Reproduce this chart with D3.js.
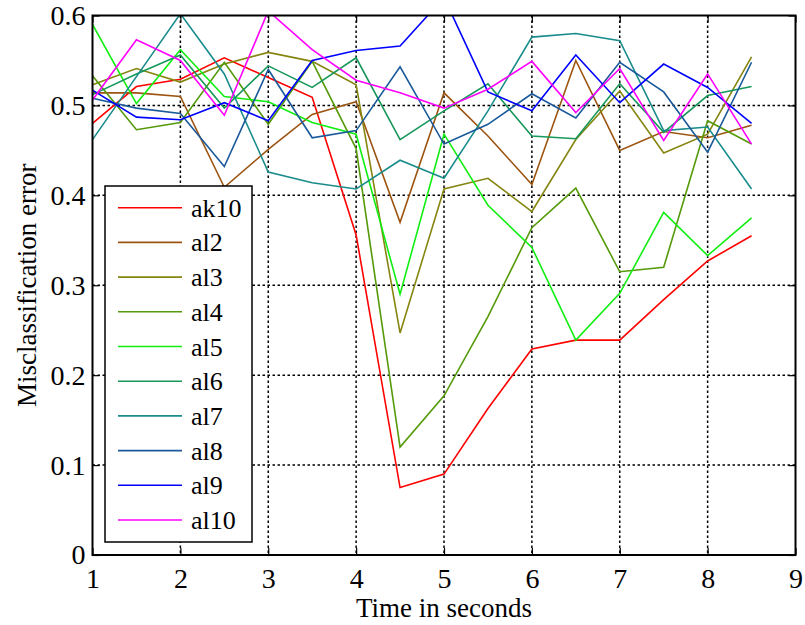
<!DOCTYPE html>
<html lang="en">
	<head>
		<meta charset="utf-8">
		<title>D3: Misclassification error</title>
		<script type="text/javascript" src="https://cdn.jsdelivr.net/npm/d3@7"></script>
		<style type="text/css">
			body { margin: 0; background: white; }
			text { font-family: "Liberation Serif", "Times New Roman", serif; fill: black; }
		</style>
	</head>
	<body>
		<script type="text/javascript">
			var w = 805;
			var h = 625;

			// time points (seconds)
			var times = [1, 1.5, 2, 2.5, 3, 3.5, 4, 4.5, 5, 5.5, 6, 6.5, 7, 7.5, 8, 8.5];

			var names = ["ak10", "al2", "al3", "al4", "al5", "al6", "al7", "al8", "al9", "al10"];
			var colors = ["#ff0000", "#9c5410", "#858510", "#559a0a", "#11ee11", "#17985a", "#1a8c8c", "#1a5a9a", "#0000ff", "#ff00ff"];

			var ak10 = [0.480, 0.521, 0.529, 0.553, 0.531, 0.509, 0.356, 0.075, 0.090, 0.163, 0.229, 0.239, 0.239, 0.284, 0.327, 0.355];
			var al2  = [0.514, 0.514, 0.510, 0.409, 0.451, 0.490, 0.504, 0.370, 0.514, 0.466, 0.412, 0.550, 0.450, 0.471, 0.464, 0.478];
			var al3  = [0.523, 0.541, 0.526, 0.546, 0.559, 0.549, 0.523, 0.247, 0.407, 0.419, 0.382, 0.462, 0.516, 0.447, 0.468, 0.554];
			var al4  = [0.533, 0.473, 0.481, 0.548, 0.479, 0.549, 0.452, 0.120, 0.177, 0.265, 0.364, 0.408, 0.315, 0.320, 0.483, 0.457];
			var al5  = [0.590, 0.502, 0.562, 0.510, 0.504, 0.481, 0.468, 0.290, 0.468, 0.389, 0.342, 0.239, 0.291, 0.381, 0.333, 0.375];
			var al6  = [0.512, 0.535, 0.556, 0.497, 0.544, 0.520, 0.553, 0.462, 0.494, 0.524, 0.466, 0.463, 0.524, 0.470, 0.511, 0.521];
			var al7  = [0.462, 0.532, 0.602, 0.535, 0.426, 0.414, 0.407, 0.439, 0.419, 0.494, 0.576, 0.580, 0.572, 0.472, 0.476, 0.407];
			var al8  = [0.508, 0.497, 0.491, 0.432, 0.540, 0.464, 0.472, 0.543, 0.457, 0.479, 0.513, 0.486, 0.548, 0.515, 0.448, 0.548];
			var al9  = [0.517, 0.487, 0.484, 0.503, 0.483, 0.550, 0.561, 0.566, 0.620, 0.515, 0.494, 0.556, 0.503, 0.546, 0.520, 0.480];
			var al10 = [0.506, 0.573, 0.550, 0.489, 0.605, 0.562, 0.528, 0.514, 0.497, 0.518, 0.549, 0.492, 0.541, 0.461, 0.535, 0.457];

			var xTicks = [1, 2, 3, 4, 5, 6, 7, 8, 9];
			var yTicks = [0, 0.1, 0.2, 0.3, 0.4, 0.5, 0.6];

			var series = [ak10, al2, al3, al4, al5, al6, al7, al8, al9, al10];

			// plot box (note: "top" is taken by window.top, so use px*)
			var pxL = 92.5, pxR = 795.5, pxT = 15.5, pxB = 555;

			var x = d3.scaleLinear().domain([1, 9]).range([pxL, pxR]);
			var y = d3.scaleLinear().domain([0, 0.6]).range([pxB, pxT]);

			var svg = d3.select("body")
					.append("svg")
					.attr("width", w)
					.attr("height", h);

			svg.append("clipPath")
				.attr("id", "plot")
				.append("rect")
				.attr("x", pxL)
				.attr("y", pxT)
				.attr("width", pxR - pxL)
				.attr("height", pxB - pxT);

			// dotted grid
			svg.selectAll("line.gx")
				.data(xTicks.slice(1, -1))
				.enter()
				.append("line")
				.attr("x1", function(d) { return x(d); })
				.attr("x2", function(d) { return x(d); })
				.attr("y1", pxT)
				.attr("y2", pxB)
				.attr("stroke", "black")
				.attr("stroke-width", 1.5)
				.attr("stroke-dasharray", "2.5,2.5");

			svg.selectAll("line.gy")
				.data(yTicks.slice(1, -1))
				.enter()
				.append("line")
				.attr("x1", pxL)
				.attr("x2", pxR)
				.attr("y1", function(d) { return y(d); })
				.attr("y2", function(d) { return y(d); })
				.attr("stroke", "black")
				.attr("stroke-width", 1.5)
				.attr("stroke-dasharray", "2.5,2.5");

			// the lines
			var line = d3.line()
				.x(function(d, i) { return x(times[i]); })
				.y(function(d) { return y(d); });

			svg.append("g")
				.attr("clip-path", "url(#plot)")
				.selectAll("path")
				.data(series)
				.enter()
				.append("path")
				.attr("d", line)
				.attr("fill", "none")
				.attr("stroke", function(d, i) { return colors[i]; })
				.attr("stroke-width", 1.6);

			// axes with inward ticks, all four sides
			var xAxis = d3.axisBottom(x).tickValues(xTicks).tickSize(-7).tickPadding(13)
				.tickFormat(d3.format("d"));
			var yAxis = d3.axisLeft(y).tickValues(yTicks).tickSize(-7).tickPadding(7)
				.tickFormat(function(d) { return d === 0 ? "0" : d3.format(".1f")(d); });

			var gx = svg.append("g")
				.attr("transform", "translate(0," + pxB + ")")
				.call(xAxis);
			var gy = svg.append("g")
				.attr("transform", "translate(" + pxL + ",0)")
				.call(yAxis);
			svg.append("g")
				.attr("transform", "translate(0," + pxT + ")")
				.call(d3.axisTop(x).tickValues(xTicks).tickSize(-7).tickFormat(""));
			svg.append("g")
				.attr("transform", "translate(" + pxR + ",0)")
				.call(d3.axisRight(y).tickValues(yTicks).tickSize(-7).tickFormat(""));

			svg.selectAll(".domain").remove();
			svg.selectAll(".tick line").attr("stroke", "black").attr("stroke-width", 1.2);
			svg.selectAll(".tick text")
				.attr("font-size", "28px")
				.attr("font-family", "Liberation Serif, serif");

			svg.append("rect")
				.attr("x", pxL)
				.attr("y", pxT)
				.attr("width", pxR - pxL)
				.attr("height", pxB - pxT)
				.attr("fill", "none")
				.attr("stroke", "black")
				.attr("stroke-width", 2);

			// axis titles
			svg.append("text")
				.attr("x", (pxL + pxR) / 2)
				.attr("y", 617)
				.attr("text-anchor", "middle")
				.attr("font-size", "27px")
				.text("Time in seconds");

			svg.append("text")
				.attr("transform", "translate(36," + ((pxT + pxB) / 2) + ") rotate(-90)")
				.attr("text-anchor", "middle")
				.attr("font-size", "27px")
				.text("Misclassification error");

			// legend
			var lg = svg.append("g");
			lg.append("rect")
				.attr("x", 105)
				.attr("y", 186)
				.attr("width", 147)
				.attr("height", 356)
				.attr("fill", "white")
				.attr("stroke", "black")
				.attr("stroke-width", 1.5);

			var item = lg.selectAll("g.item")
				.data(names)
				.enter()
				.append("g")
				.attr("transform", function(d, i) { return "translate(0," + (207.7 + i * 34.7) + ")"; });
			item.append("line")
				.attr("x1", 118)
				.attr("x2", 182)
				.attr("stroke", function(d, i) { return colors[i]; })
				.attr("stroke-width", 1.6);
			item.append("text")
				.attr("x", 191)
				.attr("y", 9)
				.attr("font-size", "26px")
				.text(function(d) { return d; });
		</script>
	</body>
</html>
